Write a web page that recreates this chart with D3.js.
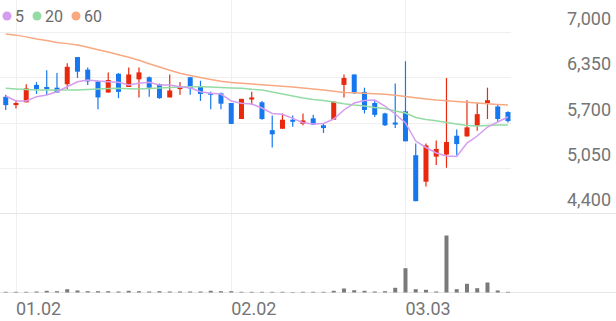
<!DOCTYPE html>
<html lang="ko">
<head>
<meta charset="UTF-8">
<title>Price chart</title>
<script src="https://cdn.jsdelivr.net/npm/d3@7"></script>
<style>
    body { margin: 0; background: #fff; font-family: 'Roboto', sans-serif; }
    svg { display: block; }
    .grid { stroke: #f0f0f0; stroke-width: 1; }
    .axis-label { fill: #757575; }
</style>
</head>
<body>
<div id="chart"></div>
<script>
// daily candles (index 0 = last day of December)
const open  = [6070,5950,5990,6240,6210,6200,6250,6640,6460,6290,6130,6400,6210,6320,6350,6250,6060,6180,6350,6210,6120,6120,5980,5750,6030,5990,5590,5610,5740,5680,5760,5660,5740,6240,6390,6140,5980,5830,5700,5860,5230,4850,5210,5240,5510,5500,5650,5980,5930,5850];
const high  = [6100,6020,6250,6280,6450,6410,6550,6640,6490,6300,6420,6410,6490,6490,6360,6260,6390,6280,6350,6300,6140,6130,5980,6040,6140,6010,5800,5830,5800,5830,5810,5690,6010,6390,6390,6200,6010,5840,6260,6580,5400,5400,5440,6340,5600,6020,5980,6200,5960,5860];
const low   = [5880,5900,5990,6110,6100,6130,6180,6340,6240,5890,6130,6050,6210,6060,6070,6040,6060,6100,6100,6010,5890,5890,5680,5750,5950,5740,5340,5610,5640,5660,5670,5550,5740,6060,6110,5830,5780,5650,5620,5430,4570,4780,5090,5050,5230,5500,5580,5750,5710,5700];
const close = [5950,5980,6190,6180,6180,6130,6500,6430,6290,6060,6310,6140,6390,6420,6200,6050,6160,6210,6190,6110,6100,5970,5680,6040,6060,5750,5530,5740,5710,5730,5670,5620,6000,6340,6120,5880,5810,5660,5670,5430,4570,5370,5320,5420,5390,5630,5820,6020,5750,5720];
const volume = [70,70,70,100,170,130,330,200,130,130,130,100,170,130,100,130,100,100,100,100,170,130,130,70,70,70,70,70,50,70,70,70,170,400,230,170,100,130,470,2430,330,270,100,5700,330,870,430,1000,200,70];

// moving averages
const ma5  = [6081,6009,6009,6071,6095,6142,6214,6286,6310,6296,6286,6277,6239,6263,6277,6239,6239,6214,6200,6142,6119,6109,6009,5976,5966,5908,5829,5818,5760,5697,5678,5686,5750,5880,5980,6016,6023,5937,5822,5693,5434,5341,5262,5219,5212,5405,5506,5635,5707,5779];
const ma20 = [6191,6181,6174,6167,6167,6167,6167,6167,6174,6181,6188,6191,6185,6181,6188,6196,6203,6210,6214,6214,6210,6203,6196,6191,6177,6167,6138,6109,6081,6052,6030,6016,5995,5970,5951,5937,5915,5901,5865,5836,5772,5743,5726,5700,5678,5657,5650,5657,5664,5664];
const ma60 = [6970,6955,6930,6900,6877,6850,6833,6813,6780,6746,6713,6674,6638,6593,6545,6497,6450,6407,6375,6346,6318,6293,6275,6263,6253,6243,6231,6221,6210,6196,6181,6167,6148,6131,6127,6120,6112,6105,6091,6074,6056,6038,6023,6012,6002,5990,5980,5969,5960,5951];

const priceTicks = [4400, 5050, 5700, 6350, 7000];
const tickIndex  = [1, 22, 39];
const tickLabels = ['01.02', '02.02', '03.03'];

const maSeries = [
    { label: '5',  values: ma5,  color: '#d59cf0' },
    { label: '20', values: ma20, color: '#94dba4' },
    { label: '60', values: ma60, color: '#f8a982' }
];

const width = 616, height = 321;
const upColor = '#e8290e', downColor = '#1677ee';

const svg = d3.select('#chart').append('svg')
    .attr('width', width)
    .attr('height', height);

const idx = d3.range(close.length);

const x = d3.scaleBand()
    .domain(idx)
    .range([0.6, 513.1]);
const cx = i => x(i) + x.bandwidth() / 2;

const y = d3.scaleLinear()
    .domain([4400, 7000])
    .range([213, 32]);

const yVol = d3.scaleLinear()
    .domain([0, d3.max(volume)])
    .range([292.5, 235.5]);

// horizontal grid
svg.append('g')
    .selectAll('line')
    .data(priceTicks.filter(t => t !== 4400))
    .join('line')
    .attr('class', 'grid')
    .attr('x1', 0).attr('x2', 511)
    .attr('y1', d => Math.round(y(d)) + 0.5)
    .attr('y2', d => Math.round(y(d)) + 0.5);

// vertical grid at month starts
svg.append('g')
    .selectAll('line')
    .data(tickIndex)
    .join('line')
    .attr('class', 'grid')
    .attr('x1', d => Math.round(cx(d)) + 0.5)
    .attr('x2', d => Math.round(cx(d)) + 0.5)
    .attr('y1', 0).attr('y2', 292);

// panel borders
svg.append('line')
    .attr('x1', 0).attr('x2', width)
    .attr('y1', 213.5).attr('y2', 213.5)
    .attr('stroke', '#e6e6e6');
svg.append('line')
    .attr('x1', 0).attr('x2', width)
    .attr('y1', 292.5).attr('y2', 292.5)
    .attr('stroke', '#e6e6e6');

// price labels
svg.append('g')
    .selectAll('text')
    .data(priceTicks)
    .join('text')
    .attr('class', 'axis-label')
    .attr('x', 611)
    .attr('y', d => y(d) - 7)
    .attr('text-anchor', 'end')
    .attr('font-size', 18)
    .text(d => d3.format(',')(d));

// date labels
svg.append('g')
    .selectAll('text')
    .data(tickIndex)
    .join('text')
    .attr('class', 'axis-label')
    .attr('x', d => cx(d))
    .attr('y', 315)
    .attr('font-size', 18)
    .text((d, i) => tickLabels[i]);

// volume bars
svg.append('g')
    .selectAll('rect')
    .data(idx)
    .join('rect')
    .attr('x', i => cx(i) - 2)
    .attr('width', 4)
    .attr('y', i => yVol(volume[i]))
    .attr('height', i => yVol(0) - yVol(volume[i]))
    .attr('fill', '#7a7a7a');

// candles
const candle = svg.append('g')
    .selectAll('g')
    .data(idx)
    .join('g')
    .attr('fill', i => close[i] >= open[i] ? upColor : downColor)
    .attr('stroke', i => close[i] >= open[i] ? upColor : downColor);

candle.append('line')
    .attr('x1', i => cx(i)).attr('x2', i => cx(i))
    .attr('y1', i => y(high[i]))
    .attr('y2', i => y(low[i]))
    .attr('stroke-width', 1.2);

candle.append('rect')
    .attr('x', i => cx(i) - 2.5)
    .attr('width', 5)
    .attr('y', i => y(Math.max(open[i], close[i])))
    .attr('height', i => Math.max(1.5, Math.abs(y(open[i]) - y(close[i]))))
    .attr('stroke', 'none');

// moving average lines
const line = d3.line()
    .x((d, i) => cx(i))
    .y(d => y(d));

svg.append('g')
    .selectAll('path')
    .data(maSeries.slice().reverse())
    .join('path')
    .attr('d', d => line(d.values))
    .attr('fill', 'none')
    .attr('stroke', d => d.color)
    .attr('stroke-width', 1.5);

// legend
const legendX = [7, 37, 76];
const legend = svg.append('g')
    .selectAll('g')
    .data(maSeries)
    .join('g')
    .attr('transform', (d, i) => `translate(${legendX[i]},16)`);

legend.append('circle')
    .attr('r', 4.5)
    .attr('fill', d => d.color);

legend.append('text')
    .attr('x', 8)
    .attr('y', 5.5)
    .attr('font-size', 16)
    .attr('fill', '#6a6a6a')
    .text(d => d.label);
</script>
</body>
</html>
